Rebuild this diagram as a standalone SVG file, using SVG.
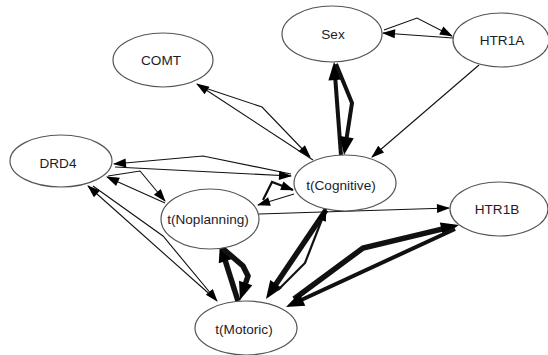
<svg xmlns="http://www.w3.org/2000/svg" width="548" height="355" viewBox="0 0 548 355">
<style>
.n ellipse{fill:#fff;stroke:#555;stroke-width:1.2}
.n text{font-family:"Liberation Sans",Arial,sans-serif;font-size:13.6px;fill:#1c1c2c;text-anchor:middle}
.e path{fill:none;stroke:#111;stroke-linejoin:miter}
.t{stroke-width:1.1;marker-end:url(#a)}
.m{stroke-width:2.2;marker-end:url(#a)}
.k{stroke-width:4;marker-end:url(#A)}
.kk{stroke-width:5.5;marker-end:url(#A)}
</style>
<defs>
<marker id="a" markerUnits="userSpaceOnUse" markerWidth="13" markerHeight="9" refX="12" refY="4.5" orient="auto" viewBox="0 0 13 9" overflow="visible"><path d="M0,0 L13,4.5 L0,9 z" fill="#000"/></marker>
<marker id="A" markerUnits="userSpaceOnUse" markerWidth="18" markerHeight="14" refX="9" refY="7" orient="auto" viewBox="0 0 18 14" overflow="visible"><path d="M0,0 L18,7 L0,14 z" fill="#000"/></marker>
</defs>
<rect width="548" height="355" fill="#fff"/>
<g id="edges" class="e">
<path class="t" d="M384,30 L417,18 L452,36"/>
<path class="t" d="M453,38 L383,33"/>
<path class="k" d="M341,155 L334.7,71"/>
<path class="k" d="M336,64 L352,103 L345.4,146"/>
<path class="t" d="M479,65 L372,157"/>
<path class="t" d="M199,86 L262,107 L310,157"/>
<path class="t" d="M313,160 L197,84"/>
<path class="t" d="M291,174 L203,156 L114,164"/>
<path class="t" d="M115,167 L291,176"/>
<path class="t" d="M108,176 L140,171 L165,201"/>
<path class="t" d="M165,203 L107,177"/>
<path class="t" d="M215,299 L88,186"/>
<path class="t" d="M93,186 L163,236 L217,301"/>
<path class="m" d="M263,200 L272,182 L293,190"/>
<path class="t" d="M294,194 L258,205"/>
<path class="t" d="M259,214 L449,208"/>
<path class="kk" d="M238,301 L222.7,252.6"/>
<path class="kk" d="M221,247 L243,266 L248,276 L242.8,291.5"/>
<path class="kk" d="M326,210 L271,291.5"/>
<path class="m" d="M278,290 L305,263 L326,209"/>
<path class="kk" d="M294,299 L363,248 L450.2,227.1"/>
<path class="k" d="M455,229 L294.2,303.2"/>
</g>
<g id="COMT" class="n"><ellipse cx="163" cy="60" rx="50" ry="27"/><text x="161" y="65">COMT</text></g>
<g id="Sex" class="n"><ellipse cx="332" cy="34" rx="50" ry="28"/><text x="333" y="39">Sex</text></g>
<g id="HTR1A" class="n"><ellipse cx="501" cy="40" rx="48" ry="27"/><text x="502" y="45">HTR1A</text></g>
<g id="DRD4" class="n"><ellipse cx="61" cy="161" rx="51" ry="26"/><text x="58" y="168">DRD4</text></g>
<g id="tNoplanning" class="n"><ellipse cx="210" cy="219" rx="49" ry="30"/><text x="208" y="224">t(Noplanning)</text></g>
<g id="tCognitive" class="n"><ellipse cx="345" cy="183" rx="51" ry="28"/><text x="341" y="190">t(Cognitive)</text></g>
<g id="HTR1B" class="n"><ellipse cx="499" cy="209" rx="49" ry="27"/><text x="497" y="214">HTR1B</text></g>
<g id="tMotoric" class="n"><ellipse cx="246" cy="328" rx="51" ry="27"/><text x="244" y="334">t(Motoric)</text></g>
</svg>
